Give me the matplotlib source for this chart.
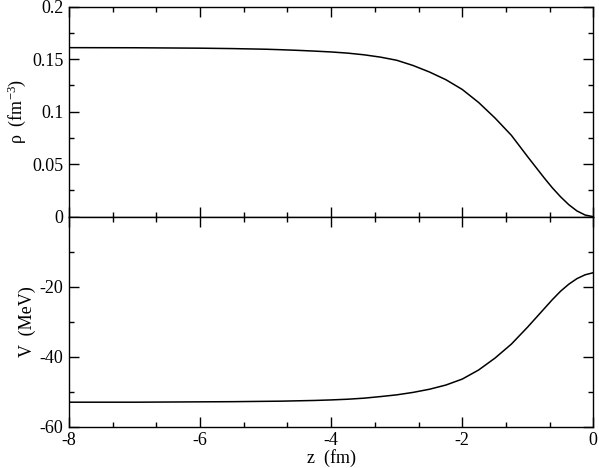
import matplotlib
matplotlib.use("Agg")
import matplotlib.pyplot as plt
from matplotlib.ticker import MultipleLocator, FixedLocator

plt.rcParams['font.family'] = ['Liberation Serif', 'DejaVu Serif']
plt.rcParams['mathtext.default'] = 'regular'

z = [-8, -7, -6, -5.5, -5, -4.75, -4.5, -4.25, -4, -3.75, -3.5, -3.25, -3,
     -2.75, -2.5, -2.25, -2, -1.75, -1.5, -1.25, -1, -0.875, -0.75, -0.625,
     -0.5, -0.375, -0.25, -0.125, 0]
rho = [0.1610, 0.1609, 0.1605, 0.1601, 0.1595, 0.1590, 0.1584, 0.1577, 0.1569,
       0.1558, 0.1542, 0.1520, 0.1490, 0.1440, 0.1378, 0.1305, 0.1212, 0.1088,
       0.0940, 0.0775, 0.0570, 0.0470, 0.0370, 0.0275, 0.0190, 0.0115, 0.0055,
       0.0016, 0.0]
V = [-53.0, -53.0, -52.9, -52.85, -52.75, -52.7, -52.6, -52.5, -52.35, -52.15,
     -51.85, -51.4, -50.9, -50.2, -49.3, -48.1, -46.4, -43.8, -40.4, -36.4,
     -31.5, -28.9, -26.3, -23.7, -21.3, -19.3, -17.7, -16.6, -16.0]

rho_ticks = [0, 0.05, 0.1, 0.15, 0.2]
rho_labels = ['0', '0.05', '0.1', '0.15', '0.2']
V_ticks = [-60, -40, -20]
V_labels = ['-60', '-40', '-20']
z_ticks = [-8, -6, -4, -2, 0]
z_labels = ['-8', '-6', '-4', '-2', '0']

fig = plt.figure(figsize=(5.99, 4.68), dpi=100)
L, R = 69 / 599, 593.3 / 599
ax1 = fig.add_axes([L, 1 - 216.7 / 468, R - L, 210 / 468])
ax2 = fig.add_axes([L, 1 - 426.7 / 468, R - L, 210 / 468])

fs = 13
for ax in (ax1, ax2):
    ax.set_xlim(-8, 0)
    ax.xaxis.set_major_locator(FixedLocator(z_ticks))
    ax.xaxis.set_minor_locator(MultipleLocator(2 / 3))
    ax.tick_params(which='both', direction='in', top=True, right=True,
                   labelsize=fs, width=1.0, color='black')
    ax.tick_params(which='major', length=7.5)
    ax.tick_params(which='minor', length=3.8)
    for s in ax.spines.values():
        s.set_linewidth(1.0)

ax1.plot(z, rho, color='black', lw=1.1)
ax1.set_ylim(0, 0.2)
ax1.set_yticks(rho_ticks)
ax1.set_yticklabels(rho_labels)
ax1.yaxis.set_minor_locator(MultipleLocator(0.025))
ax1.tick_params(labelbottom=False)
ax1.set_ylabel('ρ  (fm$^{-3}$)', fontsize=fs, labelpad=3)

ax2.plot(z, V, color='black', lw=1.1)
ax2.set_ylim(-60, 0)
ax2.set_yticks(V_ticks)
ax2.set_yticklabels(V_labels)
ax2.yaxis.set_minor_locator(FixedLocator([-50, -30, -10]))
ax2.set_xticklabels(z_labels)
ax2.set_ylabel('V  (MeV)', fontsize=fs, labelpad=3)
ax2.set_xlabel('z  (fm)', fontsize=fs, labelpad=0)
ax2.tick_params(axis='x', pad=4)
ax2.tick_params(axis='y', pad=4)
ax1.tick_params(axis='y', pad=4)

fig.savefig('out.png', dpi=100)
